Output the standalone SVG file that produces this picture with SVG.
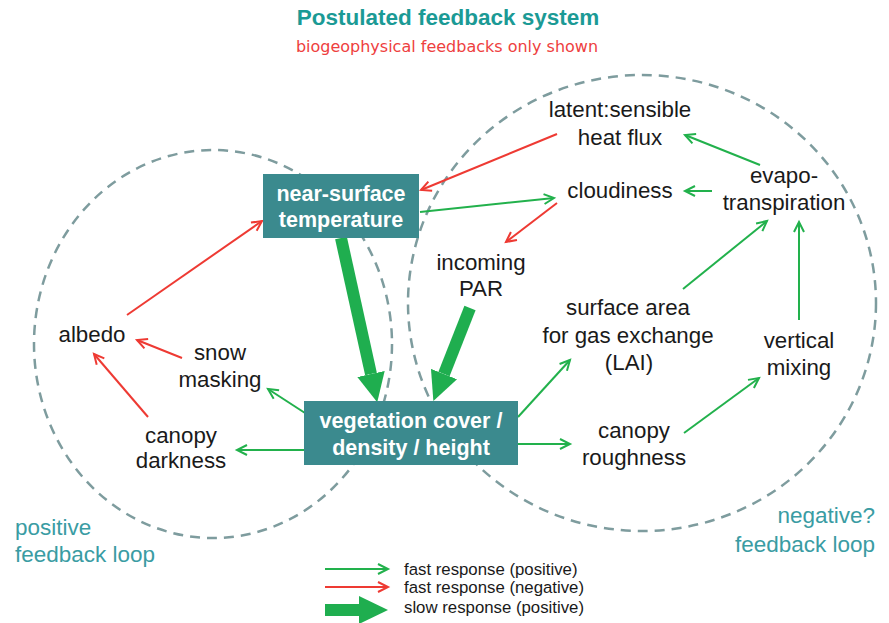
<svg xmlns="http://www.w3.org/2000/svg" width="889" height="623" viewBox="0 0 889 623">
<style>
.t{font-family:"Liberation Sans",Arial,sans-serif;font-size:22.3px;fill:#1a1a1a;text-anchor:middle}
.bx{fill:#3b8a8e}
.bt{font-family:"Liberation Sans",Arial,sans-serif;font-size:21.5px;font-weight:bold;fill:#ffffff;text-anchor:middle}
.loop{font-family:"Liberation Sans",Arial,sans-serif;font-size:22.5px;fill:#3a9ca3}
.lg{font-family:"Liberation Sans",Arial,sans-serif;font-size:16.8px;fill:#1a1a1a}
.dash{fill:none;stroke:#7e9c9e;stroke-width:2.5;stroke-dasharray:10 7}
.g{fill:none;stroke:#22b14c;stroke-width:2;marker-end:url(#ag)}
.r{fill:none;stroke:#ee3a33;stroke-width:2;marker-end:url(#ar)}
.G{fill:none;stroke:#1fae4f;stroke-width:12;marker-end:url(#aG)}
</style>
<defs>
<marker id="ag" markerUnits="userSpaceOnUse" markerWidth="14" markerHeight="14" refX="11" refY="6" orient="auto" viewBox="0 0 14 12">
<path d="M1,1 L11,6 L1,11" fill="none" stroke="#22b14c" stroke-width="2"/>
</marker>
<marker id="ar" markerUnits="userSpaceOnUse" markerWidth="14" markerHeight="14" refX="11" refY="6" orient="auto" viewBox="0 0 14 12">
<path d="M1,1 L11,6 L1,11" fill="none" stroke="#ee3a33" stroke-width="2"/>
</marker>
<marker id="aG" markerUnits="userSpaceOnUse" markerWidth="30" markerHeight="30" refX="0" refY="15" orient="auto" viewBox="0 0 30 30">
<path d="M0,1 L29,15 L0,29 z" fill="#1fae4f"/>
</marker>
</defs>

<text x="448" y="25" font-family="Liberation Sans,Arial,sans-serif" font-size="22.5" font-weight="bold" fill="#1b9a95" text-anchor="middle">Postulated feedback system</text>
<text x="447" y="52" font-family="Comic Sans MS,DejaVu Sans,sans-serif" font-size="16" fill="#ee4040" text-anchor="middle">biogeophysical feedbacks only shown</text>

<g id="loops">
<ellipse class="dash" cx="213" cy="344" rx="179" ry="194"/>
<ellipse class="dash" cx="642" cy="303" rx="234" ry="228"/>
</g>

<g id="connectors">
<line class="r" x1="557" y1="134" x2="421" y2="190"/>
<line class="r" x1="557" y1="203" x2="506" y2="242"/>
<line class="r" x1="127" y1="315" x2="262" y2="221"/>
<line class="r" x1="182" y1="358" x2="137" y2="340"/>
<line class="r" x1="148" y1="417" x2="94" y2="354"/>
<line class="g" x1="420" y1="212" x2="554" y2="198"/>
<line class="g" x1="760" y1="165" x2="685" y2="135"/>
<line class="g" x1="712" y1="191" x2="685" y2="191"/>
<line class="g" x1="683" y1="289" x2="767" y2="221"/>
<line class="g" x1="799" y1="320" x2="799" y2="222"/>
<line class="g" x1="518" y1="417" x2="570" y2="360"/>
<line class="g" x1="518" y1="444" x2="570" y2="444"/>
<line class="g" x1="684" y1="433" x2="759" y2="378"/>
<line class="g" x1="305" y1="413" x2="268" y2="389"/>
<line class="g" x1="305" y1="450" x2="237" y2="450"/>
<line class="G" x1="341" y1="238" x2="371" y2="374"/>
<line class="G" x1="470" y1="308" x2="444" y2="374"/>
</g>

<g id="near-surface-temperature">
<rect class="bx" x="263" y="174" width="156" height="64"/>
<text class="bt" x="341" y="201">near-surface</text>
<text class="bt" x="341" y="227">temperature</text>
</g>
<g id="vegetation">
<rect class="bx" x="304" y="401" width="214" height="64"/>
<text class="bt" x="411" y="428">vegetation cover /</text>
<text class="bt" x="411" y="455">density / height</text>
</g>
<g id="latent-sensible"><text class="t" x="620" y="117">latent:sensible</text><text class="t" x="620" y="145">heat flux</text></g>
<g id="cloudiness"><text class="t" x="620" y="198">cloudiness</text></g>
<g id="evapotranspiration"><text class="t" x="784" y="183">evapo-</text><text class="t" x="784" y="210">transpiration</text></g>
<g id="incoming-par"><text class="t" x="481" y="270">incoming</text><text class="t" x="481" y="296">PAR</text></g>
<g id="surface-area"><text class="t" x="628" y="315">surface area</text><text class="t" x="628" y="343">for gas exchange</text><text class="t" x="629" y="370">(LAI)</text></g>
<g id="vertical-mixing"><text class="t" x="799" y="348">vertical</text><text class="t" x="799" y="375">mixing</text></g>
<g id="canopy-roughness"><text class="t" x="634" y="438">canopy</text><text class="t" x="634" y="465">roughness</text></g>
<g id="albedo"><text class="t" x="92" y="342">albedo</text></g>
<g id="snow-masking"><text class="t" x="220" y="360">snow</text><text class="t" x="220" y="387">masking</text></g>
<g id="canopy-darkness"><text class="t" x="181" y="443">canopy</text><text class="t" x="181" y="468">darkness</text></g>

<g id="loop-labels">
<text class="loop" x="15" y="535">positive</text>
<text class="loop" x="15" y="562">feedback loop</text>
<text class="loop" x="875" y="523" text-anchor="end">negative?</text>
<text class="loop" x="875" y="552" text-anchor="end">feedback loop</text>
</g>

<g id="legend">
<line class="g" x1="325" y1="569" x2="388" y2="569"/>
<line class="r" x1="325" y1="587" x2="388" y2="587"/>
<line class="G" x1="325" y1="610" x2="359" y2="610" stroke-width="13"/>
<text class="lg" x="404" y="575">fast response (positive)</text>
<text class="lg" x="404" y="593">fast response (negative)</text>
<text class="lg" x="404" y="613">slow response (positive)</text>
</g>
</svg>
